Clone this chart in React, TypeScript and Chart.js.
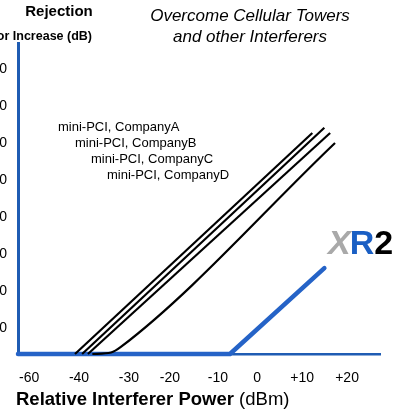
import React, { useEffect, useRef } from "react";
import { Chart, registerables } from "chart.js";

Chart.register(...registerables);

// ---- data ----
const seriesNames = [
  "mini-PCI, CompanyA",
  "mini-PCI, CompanyB",
  "mini-PCI, CompanyC",
  "mini-PCI, CompanyD",
];
const companyA = [
  { x: -40.9, y: 0 },
  { x: 12.4, y: 59.7 },
];
const companyB = [
  { x: -39.3, y: 0 },
  { x: 15.1, y: 61.1 },
];
const companyC = [
  { x: -38.0, y: 0 },
  { x: 16.4, y: 59.7 },
];
const companyD = [
  { x: -37.0, y: 0 },
  { x: -32.8, y: 0.4 },
  { x: -30.6, y: 1.9 },
  { x: 17.5, y: 57.0 },
];
const xr2 = [
  { x: -53.7, y: 0 },
  { x: -6.1, y: 0 },
  { x: 15.1, y: 23.2 },
];
const xTickPositions = [-51.2, -40, -28.8, -19.6, -8.8, 0, 10.1, 20.2];
const xTickLabels = ["-60", "-40", "-30", "-20", "-10", "0", "+10", "+20"];
const yTickValues = [10, 20, 30, 40, 50, 60, 70, 80];
const titleLines = ["Overcome Cellular Towers", "and other Interferers"];
const yHeader = ["Rejection", "Noise Floor Increase (dB)"];
const xTitleBold = "Relative Interferer Power";
const xTitleUnit = " (dBm)";

const FONT = "'Liberation Sans', Arial, Helvetica, sans-serif";
const BLUE = "#2563c7";
const AXIS_BLUE = "#1f5cb3";

const textPlugin = {
  id: "freeText",
  afterDraw(chart: any) {
    const ctx = chart.ctx as CanvasRenderingContext2D;
    ctx.save();
    ctx.fillStyle = "#000";
    ctx.textBaseline = "middle";

    // y header
    ctx.font = `bold 15px ${FONT}`;
    ctx.textAlign = "center";
    ctx.fillText(yHeader[0], 59, 12);
    ctx.font = `bold 12.5px ${FONT}`;
    ctx.textAlign = "right";
    ctx.fillText(yHeader[1], 92, 37);

    // title
    ctx.font = `italic 17px ${FONT}`;
    ctx.textAlign = "center";
    ctx.fillText(titleLines[0], 250, 16);
    ctx.fillText(titleLines[1], 250, 37);

    // series labels
    ctx.font = `13px ${FONT}`;
    ctx.textAlign = "left";
    const lx = [58, 75, 91, 107];
    const ly = [127, 143, 159, 175];
    seriesNames.forEach((s, i) => ctx.fillText(s, lx[i], ly[i]));

    // XR2 logo
    ctx.textBaseline = "alphabetic";
    let x = 328;
    const by = 254;
    ctx.font = `italic bold 34px ${FONT}`;
    ctx.fillStyle = "#a9a9a9";
    ctx.fillText("X", x, by);
    x += ctx.measureText("X").width - 1;
    ctx.font = `bold 34px ${FONT}`;
    ctx.fillStyle = "#1a5fc4";
    ctx.fillText("R", x, by);
    x += ctx.measureText("R").width;
    ctx.fillStyle = "#000";
    ctx.fillText("2", x, by);

    // x title
    ctx.textBaseline = "middle";
    ctx.fillStyle = "#000";
    ctx.font = `bold 18.5px ${FONT}`;
    ctx.fillText(xTitleBold, 16, 400);
    const w = ctx.measureText(xTitleBold).width;
    ctx.font = `18.5px ${FONT}`;
    ctx.fillText(xTitleUnit, 16 + w, 400);

    ctx.restore();
  },
};

export default function App() {
  const ref = useRef<HTMLCanvasElement | null>(null);

  useEffect(() => {
    if (!ref.current) return;
    const blackDs = (data: any[], mono = false) => ({
      data,
      borderColor: "#000",
      borderWidth: 2.2,
      pointRadius: 0,
      fill: false,
      clip: false,
      cubicInterpolationMode: mono ? "monotone" : "default",
      tension: mono ? 0.4 : 0,
    });
    const chart = new Chart(ref.current, {
      type: "line",
      data: {
        datasets: [
          { label: seriesNames[0], ...blackDs(companyA) },
          { label: seriesNames[1], ...blackDs(companyB) },
          { label: seriesNames[2], ...blackDs(companyC) },
          { label: seriesNames[3], ...blackDs(companyD, true) },
          {
            label: "XR2",
            data: xr2,
            borderColor: BLUE,
            borderWidth: 4.5,
            borderCapStyle: "round",
            borderJoinStyle: "round",
            pointRadius: 0,
            fill: false,
            clip: false,
            tension: 0,
          },
        ],
      } as any,
      options: {
        responsive: false,
        animation: false,
        events: [],
        layout: { padding: { left: 0, top: 43, right: 34, bottom: 0 } },
        plugins: {
          legend: { display: false },
          title: { display: false },
          tooltip: { enabled: false },
        },
        scales: {
          x: {
            type: "linear",
            min: -53.7,
            max: 27.6,
            grid: { display: false, drawTicks: false },
            border: { display: true, color: AXIS_BLUE, width: 2.5 },
            afterBuildTicks: (scale: any) => {
              scale.ticks = xTickPositions.map((v) => ({ value: v }));
            },
            afterFit: (scale: any) => {
              scale.height = 56;
            },
            ticks: {
              autoSkip: false,
              maxRotation: 0,
              padding: 16,
              color: "#000",
              font: { family: FONT, size: 14 },
              callback: (_v: any, i: number) => xTickLabels[i],
            },
          },
          y: {
            type: "linear",
            min: 0,
            max: 84,
            grid: { display: false, drawTicks: false },
            border: { display: true, color: AXIS_BLUE, width: 3 },
            afterBuildTicks: (scale: any) => {
              scale.ticks = yTickValues.map((v) => ({ value: v }));
            },
            afterFit: (scale: any) => {
              scale.width = 18;
            },
            ticks: {
              padding: 11,
              labelOffset: 11,
              color: "#000",
              font: { family: FONT, size: 14 },
              callback: (v: any) => String(v),
            },
          },
        },
      } as any,
      plugins: [textPlugin],
    });
    return () => chart.destroy();
  }, []);

  return (
    <div
      style={{
        position: "fixed",
        left: 0,
        top: 0,
        width: 414,
        height: 410,
        overflow: "hidden",
        background: "#fff",
      }}
    >
      <canvas ref={ref} width={414} height={410} style={{ display: "block" }} />
    </div>
  );
}
